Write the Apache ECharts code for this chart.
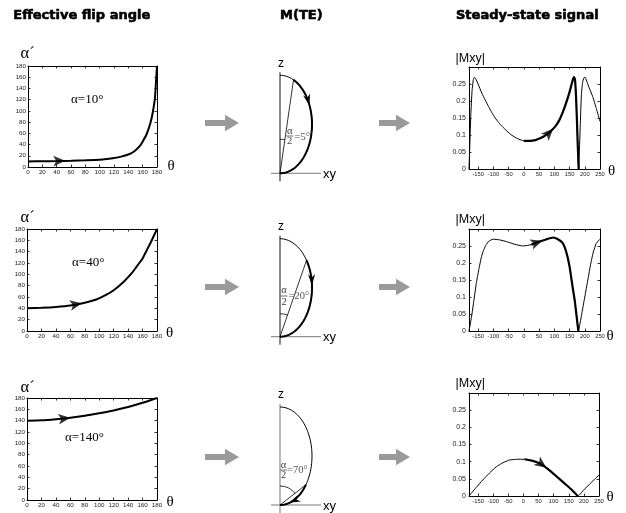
<!DOCTYPE html>
<html><head><meta charset="utf-8">
<script src="https://cdn.jsdelivr.net/npm/echarts@6/dist/echarts.min.js"></script>
<style>html,body{margin:0;padding:0;background:#fff}#c{width:626px;height:513px}</style>
</head><body><div id="c"></div>
<script>
// ---------- data ----------
const flipTicks = [0,20,40,60,80,100,120,140,160,180];
const sigXTicks = [-150,-100,-50,0,50,100,150,200,250];
const sigYTicks = [0,0.05,0.1,0.15,0.2,0.25];

const flip10 = [[0,10],[20,10.2],[40,10.6],[60,11.2],[80,12],[100,13],[110,14.3],[120,16],[130,18.5],[140,22.3],[147,26.7],[152,32],[157,39],[161,47.6],[165,57],[168,67],[170.5,77],[173,90],[175.5,108],[177.3,125],[178.6,152],[180,180]];
const flip40 = [[0,40],[20,41],[40,42.5],[60,45],[80,50],[97,56],[110,64],[120,72],[134,87],[145,102],[152,114],[160,128],[166,143],[172,158],[176,169],[180,180]];
const flip140 = [[0,140],[20,140.6],[40,142.5],[60,145],[80,148.5],[100,153],[120,158],[140,164],[160,171.5],[180,180]];

const sig10 = [[-180,0],[-177,0.08],[-174,0.16],[-170,0.23],[-166,0.262],[-162,0.27],[-158,0.265],[-150,0.25],[-138,0.223],[-127,0.203],[-116,0.184],[-105,0.166],[-94,0.15],[-83,0.137],[-72,0.126],[-55,0.111],[-39,0.099],[-20,0.089],[0,0.083],[20,0.083],[38,0.085],[55,0.091],[71,0.099],[88,0.111],[104,0.126],[116,0.143],[127,0.165],[138,0.192],[149,0.223],[157,0.25],[162,0.266],[165,0.27],[168,0.262],[171,0.22],[174,0.15],[177,0.07],[180,0],[183,0.07],[186,0.15],[189,0.22],[193,0.255],[197,0.268],[201,0.27],[205,0.262],[214,0.24],[226,0.213],[238,0.178],[250,0.14]];
const sig40 = [[-180,0],[-172,0.04],[-164,0.09],[-156,0.14],[-148,0.18],[-140,0.215],[-134,0.233],[-125,0.252],[-115,0.264],[-101,0.27],[-80,0.268],[-57,0.263],[-30,0.255],[-3,0.25],[25,0.254],[52,0.263],[75,0.27],[96,0.275],[112,0.27],[128,0.258],[140,0.23],[150,0.19],[160,0.13],[167,0.09],[173,0.045],[179,0],[190,0.05],[200,0.1],[210,0.15],[220,0.2],[228,0.232],[238,0.258],[250,0.27]];
const sig140 = [[-180,0],[-157,0.024],[-134,0.047],[-112,0.067],[-90,0.085],[-68,0.097],[-45,0.105],[-22,0.107],[4,0.107],[28,0.103],[54,0.095],[76,0.082],[98,0.066],[120,0.049],[142,0.032],[162,0.016],[180,0],[200,0.018],[225,0.04],[250,0.061]];

const flipArrowX = [52, 76, 60];
const sigArrowX = [96, 61, 76];
const alphaLabels = ['α=10°','α=40°','α=140°'];
const halfAngleLabels = ['=5°','=20°','=70°'];

// ---------- layout ----------
const flipGrid = [{left:28,top:66,width:129,height:101},{left:27,top:229,width:130,height:102},{left:27,top:398,width:130,height:102}];
const sigGrid = [{left:469,top:67,width:131,height:102},{left:469,top:229,width:131,height:102},{left:469,top:393,width:130,height:103}];
const rowY = [123, 287, 457];          // gray arrows centre line
const diagBase = [173.3, 336.7, 505];  // origin y of the M(TE) diagrams
const diagChordT = [25, 56, 126];      // parametric angle where the thick arc starts
const diagArrowT = [67, 87, 163];
const diagAngleR = [34, 23, 19];
const diagAxisColor = ['#111','#111','#777'];
const alphaPos = [[71,100],[72,263],[65,438]];
const fracPos = [{a:[289.7,131],bar:136,two:[289.7,141.5],eq:[294.5,137.5]},
                 {a:[284,290],bar:296,two:[284,302.5],eq:[288.5,296]},
                 {a:[283.5,465.5],bar:470,two:[283.5,475],eq:[287,470]}];

const serif = '"Liberation Serif","DejaVu Serif",serif';
const sans = '"Liberation Sans",Arial,sans-serif';

const grids=[], xAxes=[], yAxes=[], series=[];
function axisCommon(show){
  return {
    axisLine:{show:true,onZero:false,lineStyle:{color:'#000',width:1}},
    axisTick:{show:true,inside:true,length:2.5,lineStyle:{color:'#000',width:0.8}},
    splitLine:{show:false},
    axisLabel:{show:show,color:'#222',fontFamily:sans}
  };
}
function addGrid(g, xcfg, ycfg){
  const gi = grids.length;
  grids.push(Object.assign({containLabel:false}, g));
  [0,1].forEach(k=>{
    const xa = Object.assign({type:'value',gridIndex:gi,position:k?'top':'bottom'}, axisCommon(!k), JSON.parse(JSON.stringify(xcfg)));
    if (k) xa.axisLabel.show = false;
    xAxes.push(xa);
    const ya = Object.assign({type:'value',gridIndex:gi,position:k?'right':'left'}, axisCommon(!k), JSON.parse(JSON.stringify(ycfg)));
    if (k) ya.axisLabel.show = false;
    yAxes.push(ya);
  });
  return gi;
}
function lab(o){ return Object.assign({color:'#222',fontFamily:sans}, o); }

// flip-angle charts
[flip10, flip40, flip140].forEach((d,i)=>{
  const gi = addGrid(flipGrid[i],
    {min:0,max:180,interval:20,axisLabel:lab({fontSize:6.2,margin:2}),axisTick:{show:true,inside:true,length:2.5,lineStyle:{color:'#000',width:0.8}}},
    {min:0,max:180,interval:20,axisLabel:lab({fontSize:6.2,margin:2}),axisTick:{show:true,inside:true,length:2.5,lineStyle:{color:'#000',width:0.8}}});
  series.push({type:'line',xAxisIndex:2*gi,yAxisIndex:2*gi,data:d,showSymbol:false,smooth:0.2,
    lineStyle:{color:'#000',width:2},z:3});
});
// steady-state charts
[sig10, sig40, sig140].forEach((d,i)=>{
  const tick = {show:true,inside:true,length:2.5,customValues:sigXTicks,lineStyle:{color:'#000',width:0.8}};
  const ytick = {show:true,inside:true,length:2.5,customValues:sigYTicks,lineStyle:{color:'#000',width:0.8}};
  const gi = addGrid(sigGrid[i],
    {min:-180,max:250,axisLabel:lab({fontSize:5.8,margin:2,customValues:sigXTicks}),axisTick:tick},
    {min:0,max:0.3,axisLabel:lab({fontSize:7,margin:3,customValues:sigYTicks,formatter:v=>String(+(+v).toFixed(2))}),axisTick:ytick});
  series.push({type:'line',xAxisIndex:2*gi,yAxisIndex:2*gi,data:d,showSymbol:false,smooth:0.15,
    lineStyle:{color:'#000',width:1},z:3});
  series.push({type:'line',xAxisIndex:2*gi,yAxisIndex:2*gi,data:d.filter(p=>p[0]>=0&&p[0]<=180),showSymbol:false,smooth:0.15,
    lineStyle:{color:'#000',width:2.2},z:4});
});

function interp(d,x){
  for(let k=0;k<d.length-1;k++){
    if(x>=d[k][0]&&x<=d[k+1][0]){const f=(x-d[k][0])/(d[k+1][0]-d[k][0]);return d[k][1]+f*(d[k+1][1]-d[k][1]);}
  }
  return d[d.length-1][1];
}
const arrowDefs=[];
[flip10,flip40,flip140].forEach((d,i)=>arrowDefs.push({d,x:flipArrowX[i],gi:i,dx:6}));
[sig10,sig40,sig140].forEach((d,i)=>arrowDefs.push({d,x:sigArrowX[i],gi:3+i,dx:10}));
arrowDefs.forEach((a,k)=>{
  series.push({id:'arr'+k,type:'scatter',xAxisIndex:2*a.gi,yAxisIndex:2*a.gi,data:[[a.x,interp(a.d,a.x)]],
    symbol:'arrow',symbolSize:[8,12],itemStyle:{color:'#000'},z:6,silent:true});
});

// ---------- graphic (texts, schematic diagrams, gray arrows) ----------
const G=[];
function txt(x,y,text,size,family,opt){
  G.push({type:'text',x:x,y:y,silent:true,z:10,style:Object.assign({text:text,fontSize:size,fontFamily:family,fill:'#000',
    align:'left',verticalAlign:'middle',textAlign:'left',textVerticalAlign:'middle'},opt||{})});
}
const titleFont='"DejaVu Sans",sans-serif';
const heavy={fontWeight:'bold',stroke:'#000',lineWidth:0.6};
txt(13.3,16,'Effective flip angle',13,titleFont,heavy);
txt(280,16,'M(TE)',13,titleFont,heavy);
txt(456,16,'Steady-state signal',13,titleFont,heavy);

const alphaPrimeY=[54,218,388], thetaL=[[167.5,166.5],[166,333],[166.5,502]], thetaR=[[608,171.5],[606.5,336],[606.5,497.5]];
const mxyY=[58.5,220,383.5];
for(let i=0;i<3;i++){
  txt(20.5,alphaPrimeY[i],'α´',16.5,serif);
  txt(thetaL[i][0],thetaL[i][1],'θ',15,serif);
  txt(thetaR[i][0],thetaR[i][1],'θ',15,serif);
  txt(455.5,mxyY[i],'|Mxy|',12.5,sans);
  txt(alphaPos[i][0],alphaPos[i][1],alphaLabels[i],13,serif);
}

// gray arrows
function grayArrow(x0,xh,x1,c){
  G.push({type:'polygon',silent:true,shape:{points:[[x0,c-3],[xh,c-3],[xh,c-8.3],[x1,c],[xh,c+8.3],[xh,c+3],[x0,c+3]]},style:{fill:'#9a9a9a'}});
}
rowY.forEach(c=>{grayArrow(205,225,239,c);grayArrow(379,396,410,c);});

// M(TE) diagrams
const rx=32, ry=49, cx=280;
const rad=a=>a*Math.PI/180;
for(let i=0;i<3;i++){
  const yb=diagBase[i], cy=yb-ry;
  const pt=t=>[cx+rx*Math.sin(rad(t)), cy-ry*Math.cos(rad(t))];
  G.push({type:'line',silent:true,shape:{x1:271,y1:yb,x2:321,y2:yb},style:{stroke:'#777',lineWidth:1}});
  G.push({type:'line',silent:true,shape:{x1:cx,y1:yb-101,x2:cx,y2:yb+8},style:{stroke:diagAxisColor[i],lineWidth:1}});
  txt(278,yb-110,'z',12,sans);
  txt(323,yb+1,'xy',13,sans);
  const full=[]; for(let t=0;t<=180;t+=3) full.push(pt(t));
  G.push({type:'polyline',silent:true,shape:{points:full},style:{stroke:'#000',lineWidth:1,fill:null}});
  const thick=[]; for(let t=diagChordT[i];t<=180;t+=2) thick.push(pt(t)); thick.push(pt(180));
  G.push({type:'polyline',silent:true,shape:{points:thick},style:{stroke:'#000',lineWidth:2,fill:null}});
  const P=pt(diagChordT[i]);
  G.push({type:'line',silent:true,shape:{x1:cx,y1:yb,x2:P[0],y2:P[1]},style:{stroke:'#000',lineWidth:0.8}});
  const ang=Math.atan2(P[0]-cx, yb-P[1]);
  G.push({type:'arc',silent:true,shape:{cx:cx,cy:yb,r:diagAngleR[i],startAngle:-Math.PI/2,endAngle:-Math.PI/2+ang,clockwise:true},style:{stroke:'#000',lineWidth:0.8,fill:null}});
  const ta=rad(diagArrowT[i]); const T=pt(diagArrowT[i]);
  let dx=rx*Math.cos(ta), dy=ry*Math.sin(ta); const n=Math.hypot(dx,dy); dx/=n; dy/=n;
  const L=11,W=3.6;
  G.push({type:'polygon',silent:true,z:8,shape:{points:[T,[T[0]-L*dx-W*dy,T[1]-L*dy+W*dx],[T[0]-0.7*L*dx,T[1]-0.7*L*dy],[T[0]-L*dx+W*dy,T[1]-L*dy-W*dx]]},style:{fill:'#000'}});
  const f=fracPos[i];
  txt(f.a[0],f.a[1],'α',10.5,serif,{fill:'#444',align:'center',textAlign:'center'});
  G.push({type:'line',silent:true,shape:{x1:f.a[0]-3.5,y1:f.bar,x2:f.a[0]+3.5,y2:f.bar},style:{stroke:'#444',lineWidth:0.8}});
  txt(f.two[0],f.two[1],'2',10.5,serif,{fill:'#444',align:'center',textAlign:'center'});
  txt(f.eq[0],f.eq[1],halfAngleLabels[i],10.5,serif,{fill:'#555'});
}

const chart=echarts.init(document.getElementById('c'),null,{renderer:'canvas',width:626,height:513});
chart.setOption({animation:false,backgroundColor:'#fff',grid:grids,xAxis:xAxes,yAxis:yAxes,series:series,graphic:{elements:G}});
const upd=arrowDefs.map((a,k)=>{
  const ix=2*a.gi;
  const p=chart.convertToPixel({xAxisIndex:ix,yAxisIndex:ix},[a.x-a.dx/2,interp(a.d,a.x-a.dx/2)]);
  const q=chart.convertToPixel({xAxisIndex:ix,yAxisIndex:ix},[a.x+a.dx/2,interp(a.d,a.x+a.dx/2)]);
  const deg=Math.atan2(-(q[1]-p[1]),q[0]-p[0])*180/Math.PI;
  return {id:'arr'+k,symbolRotate:deg-90};
});
chart.setOption({series:upd});
</script></body></html>
